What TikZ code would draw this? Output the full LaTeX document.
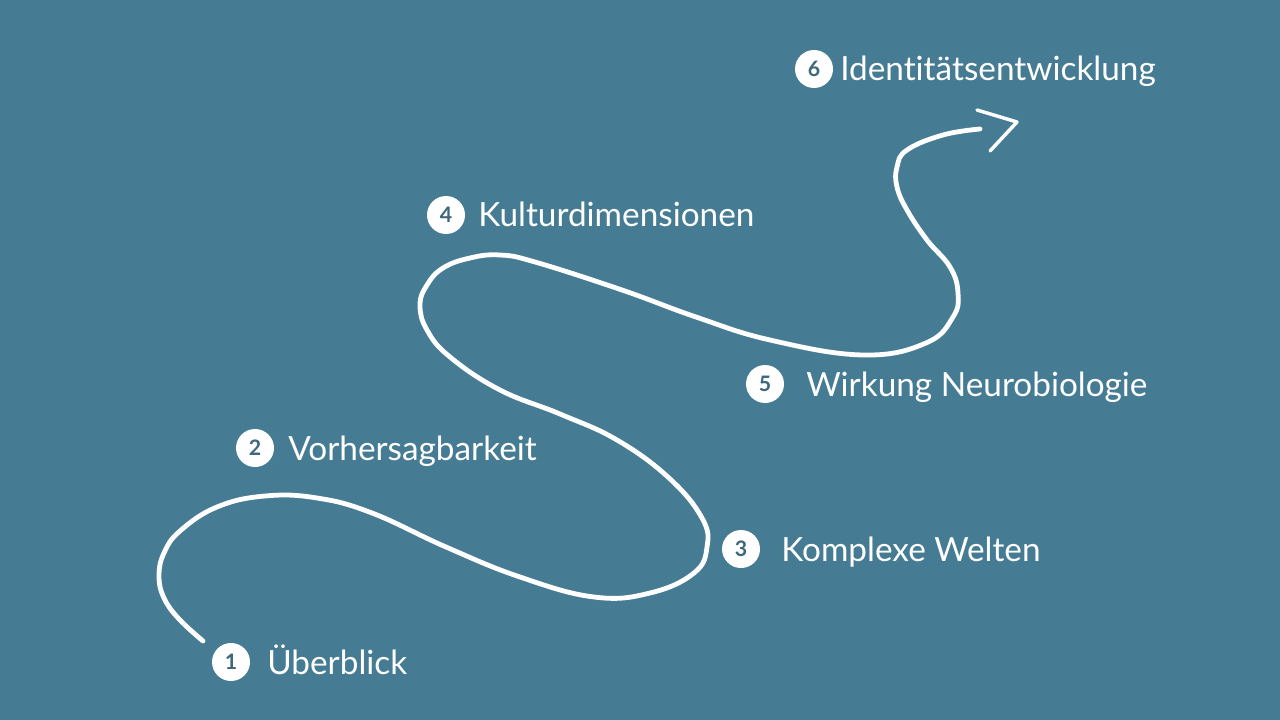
\documentclass[tikz,border=0pt]{standalone}
\usepackage{fontspec}
\setmainfont{Lato}[Ligatures=NoCommon]
\definecolor{bg}{RGB}{70,124,147}
\definecolor{numc}{RGB}{62,104,124}
\begin{document}
\begin{tikzpicture}[x=0.75pt,y=-0.75pt,
  num/.style={circle,fill=white,text=numc,minimum size=28.5pt,inner sep=0pt,font=\fontsize{16}{16}\selectfont\bfseries},
  lbl/.style={anchor=base west,text=white,inner sep=0pt,font=\fontsize{25}{29}\selectfont},
  path/.style={draw=white,line width=3.6pt,line cap=round,line join=round}]
\fill[bg] (0,0) rectangle (1280,720);
\useasboundingbox (0,0) rectangle (1280,720);
\node[num] (c1) at (231,662) {1};
\node[num] (c2) at (255,448) {2};
\node[num] (c3) at (741,549) {3};
\node[num] (c4) at (446,215) {4};
\node[num] (c5) at (765,384) {5};
\node[num] (c6) at (814,69) {6};
\node[lbl] (t1) at (267,674) {Überblick};
\node[lbl] (t2) at (288,460) {Vorhersagbarkeit};
\node[lbl] (t3) at (781,561) {Komplexe Welten};
\node[lbl] (t4) at (478,227) {Kulturdimensionen};
\node[lbl] (t5) at (806,396) {Wirkung Neurobiologie};
\node[lbl] (t6) at (840,81) {Identitätsentwicklung};
\coordinate (s) at (203,641);
\coordinate (e) at (980,129);
\coordinate (a1) at (977,110);
\coordinate (a2) at (1017,122);
\coordinate (a3) at (990,151);
\draw[path] plot[smooth,tension=0.7] coordinates {
(s) (179,619) (164,598) (159,576) (164,553) (180,531) (217,507) (265,496) (317,498) (372,513) (446,547) (520,577) (594,597) (650,593) (694,573) (707,547) (702,518) (669,478) (617,440) (560,414) (500,390) (450,357) (427,330) (420,305) (427,285) (443,268) (470,258) (500,255) (535,262) (622,290) (696,317) (770,340) (863,355) (926,343) (953,317) (958,293) (950,267) (927,240) (907,210) (897,187) (897,167) (907,150) (943,135) (e)};
\draw[path,line width=2.6pt] (a1) -- (a2) -- (a3);
\end{tikzpicture}
\end{document}
